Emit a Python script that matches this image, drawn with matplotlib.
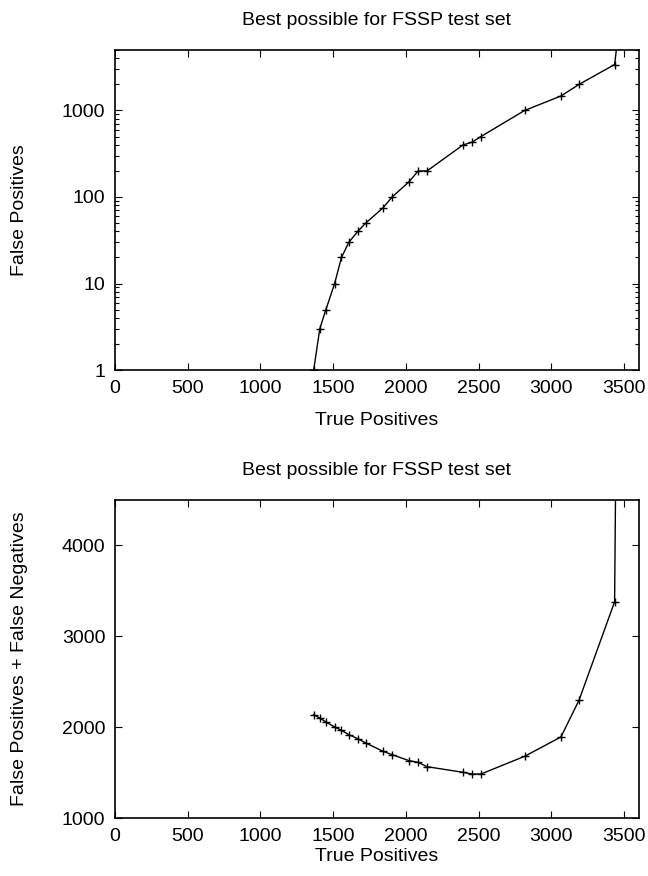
import matplotlib.pyplot as plt
from matplotlib.ticker import LogLocator, NullFormatter, FixedLocator

plt.rcParams['font.family'] = ['Liberation Sans', 'DejaVu Sans']

# cutoff sweep on the FSSP test set
true_pos = [1366, 1408, 1450, 1510, 1557, 1608, 1669, 1724, 1843, 1905, 2022,
            2084, 2145, 2393, 2455, 2516, 2816, 3066, 3190, 3435, 3465]
false_pos = [1, 3, 5, 10, 20, 30, 40, 50, 75, 100, 150,
             200, 200, 400, 430, 500, 1000, 1470, 2000, 3400, 9000]
fp_plus_fn = [2138, 2100, 2057, 2002, 1965, 1917, 1873, 1826, 1734, 1697, 1631,
              1613, 1565, 1503, 1484, 1484, 1679, 1892, 2295, 3380, 9035]

x_ticks = [0, 500, 1000, 1500, 2000, 2500, 3000, 3500]
title = "Best possible for FSSP test set"

fig = plt.figure(figsize=(6.48, 8.76), dpi=100)
ax1 = fig.add_axes([0.1775, 0.5776, 0.808, 0.3653])
ax2 = fig.add_axes([0.1775, 0.0662, 0.808, 0.363])

fs = 14
style = dict(color='black', lw=1.0, marker='+', ms=6, mew=1.0)

ax1.plot(true_pos, false_pos, **style)
ax1.set_yscale('log')
ax1.set_xlim(0, 3600)
ax1.set_ylim(1, 5000)
ax1.yaxis.set_major_locator(FixedLocator([1, 10, 100, 1000]))
ax1.yaxis.set_major_formatter(plt.FixedFormatter(['1', '10', '100', '1000']))
ax1.yaxis.set_minor_locator(LogLocator(base=10, subs=range(2, 10)))
ax1.yaxis.set_minor_formatter(NullFormatter())
ax1.set_ylabel("False Positives", fontsize=fs, labelpad=24)
ax1.set_xlabel("True Positives", fontsize=fs, labelpad=11)

ax2.plot(true_pos, fp_plus_fn, **style)
ax2.set_xlim(0, 3600)
ax2.set_ylim(1000, 4500)
ax2.set_yticks([1000, 2000, 3000, 4000])
ax2.set_ylabel("False Positives + False Negatives", fontsize=fs, labelpad=24)
ax2.set_xlabel("True Positives", fontsize=fs, labelpad=2)

for ax in (ax1, ax2):
    ax.set_xticks(x_ticks)
    ax.set_title(title, fontsize=fs, pad=18)
    ax.tick_params(which='both', direction='in', top=True, right=True,
                   labelsize=fs, width=0.8)
    ax.tick_params(which='major', length=5, pad=7)
    ax.tick_params(which='minor', length=3)
    for sp in ax.spines.values():
        sp.set_linewidth(1.2)

fig.savefig("out.png", dpi=100)
